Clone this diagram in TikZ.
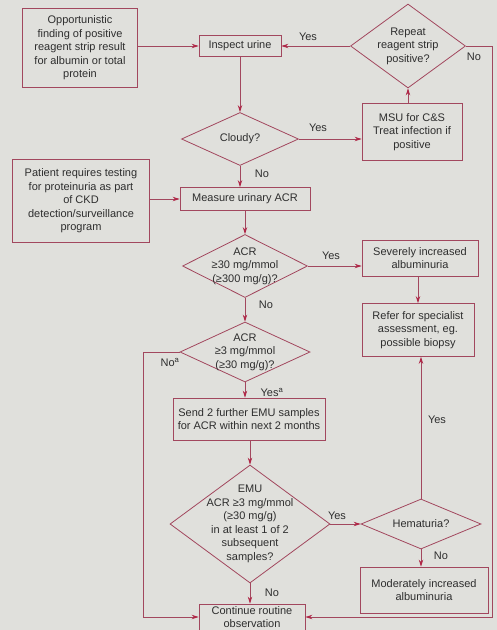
\documentclass[tikz,border=0pt]{standalone}
\usepackage{fontspec}
\setmainfont{Liberation Sans}
\usetikzlibrary{shapes.geometric,arrows.meta}
\definecolor{bg}{HTML}{E0E0DC}
\definecolor{ln}{HTML}{A2475E}
\definecolor{tip}{HTML}{B02848}
\definecolor{tx}{HTML}{2E2E2E}
\begin{document}
\begin{tikzpicture}[x=1pt,y=-1pt,
  txt/.style={text=tx,align=center,inner sep=0pt,font=\fontsize{11}{13.5}\selectfont},
  box/.style={txt,draw=ln,line width=0.8pt},
  dia/.style={draw=ln,line width=0.8pt,shape=diamond,inner sep=0pt},
  lbl/.style={text=tx,inner sep=0pt,font=\fontsize{11}{13}\selectfont},
  arr/.style={draw=ln,line width=0.8pt,-{Stealth[length=7pt,width=4.5pt,color=tip]}},
  ln/.style={draw=ln,line width=0.8pt}]
\fill[bg] (0,0) rectangle (497,630);
\useasboundingbox (0,0) rectangle (497,630);

% boxes
\node[box,minimum width=115,minimum height=79] (opp) at (80,48)
  {Opportunistic\\finding of positive\\reagent strip result\\for albumin or total\\protein};
\node[box,minimum width=82,minimum height=21] (insp) at (240,46) {Inspect urine};
\node[dia,minimum width=115,minimum height=84] (rep) at (408,46) {};
\node[txt] (reptx) at (rep.center) {Repeat\\reagent strip\\positive?};
\node[dia,minimum width=117,minimum height=53] (cloud) at (240,139) {};
\node[txt] (cloudtx) at (cloud.center) {Cloudy?};
\node[box,minimum width=100,minimum height=57] (msu) at (412,132)
  {MSU for C\&S\\Treat infection if\\positive};
\node[box,minimum width=137,minimum height=83] (pat) at (81,201)
  {Patient requires testing\\for proteinuria as part\\of CKD\\detection/surveillance\\program};
\node[box,minimum width=130,minimum height=23] (meas) at (245,199) {Measure urinary ACR};
\node[dia,minimum width=125,minimum height=63] (acra) at (245,266) {};
\node[txt] (acratx) at (acra.center) {ACR\\≥30 mg/mmol\\(≥300 mg/g)?};
\node[box,minimum width=116,minimum height=36] (sev) at (420,258)
  {Severely increased\\albuminuria};
\node[box,minimum width=112,minimum height=53] (ref) at (418,330)
  {Refer for specialist\\assessment, eg.\\possible biopsy};
\node[dia,minimum width=130,minimum height=60] (acrb) at (245,352) {};
\node[txt] (acrbtx) at (acrb.center) {ACR\\≥3 mg/mmol\\(≥30 mg/g)?};
\node[box,minimum width=152,minimum height=42] (send) at (249,419)
  {Send 2 further EMU samples\\for ACR within next 2 months};
\node[dia,minimum width=160,minimum height=118] (emu) at (250,524) {};
\node[txt] (emutx) at (emu.center)
  {EMU\\ACR ≥3 mg/mmol\\(≥30 mg/g)\\in at least 1 of 2\\subsequent\\samples?};
\node[dia,minimum width=120,minimum height=50] (hem) at (421,524) {};
\node[txt] (hemtx) at (hem.center) {Hematuria?};
\node[box,minimum width=128,minimum height=46] (mod) at (424,590)
  {Moderately increased\\albuminuria};
\node[box,minimum width=106,minimum height=26] (cont) at (252,617)
  {Continue routine\\observation};

% helper coordinates
\coordinate (rc) at (492,43);
\coordinate (lc) at (143,352);

% connectors
\draw[arr] (opp.east |- insp) -- (insp.west);
\draw[arr] (rep.west) -- (insp.east);
\draw[arr] (insp.south) -- (cloud.north);
\draw[arr] (cloud.east) -- (msu.west |- cloud.east);
\draw[arr] (msu.north -| rep.south) -- (rep.south);
\draw[arr] (cloud.south) -- (cloud.south |- meas.north);
\draw[arr] (pat.east |- meas) -- (meas.west);
\draw[arr] (meas.south) -- (acra.north);
\draw[arr] (acra.east) -- (sev.west |- acra.east);
\draw[arr] (sev.south -| ref.north) -- (ref.north);
\draw[arr] (acra.south) -- (acrb.north);
\draw[arr] (acrb.south) -- (acrb.south |- send.north);
\draw[arr] (emu.north |- send.south) -- (emu.north);
\draw[arr] (emu.east) -- (hem.west);
\draw[arr] (hem.north) -- (hem.north |- ref.south);
\draw[arr] (hem.south) -- (hem.south |- mod.north);
\draw[arr] (emu.south) -- (emu.south |- cont.north);
\draw[arr] (rep.east) -- (rep.east -| rc) -- (rc |- cont.east) -- (cont.east);
\draw[arr] (acrb.west) -- (acrb.west -| lc) -- (lc |- cont.west) -- (cont.west);

% labels
\node[lbl] (l1) at (308,37) {Yes};
\node[lbl] (l2) at (474,57) {No};
\node[lbl] (l3) at (318,128) {Yes};
\node[lbl] (l4) at (262,174) {No};
\node[lbl] (l5) at (331,256) {Yes};
\node[lbl] (l6) at (266,305) {No};
\node[lbl] (l7) at (170,362) {No\textsuperscript{a}};
\node[lbl] (l8) at (272,392) {Yes\textsuperscript{a}};
\node[lbl] (l9) at (437,420) {Yes};
\node[lbl] (l10) at (337,516) {Yes};
\node[lbl] (l11) at (441,556) {No};
\node[lbl] (l12) at (272,593) {No};
\end{tikzpicture}
\end{document}
